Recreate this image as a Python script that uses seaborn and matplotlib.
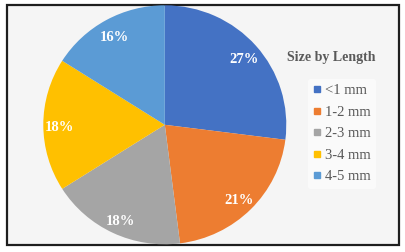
import matplotlib
matplotlib.use("Agg")
import matplotlib.pyplot as plt
from matplotlib.patches import Rectangle
from matplotlib.lines import Line2D
import seaborn as sns

categories = ["<1 mm", "1-2 mm", "2-3 mm", "3-4 mm", "4-5 mm"]
values = [27, 21, 18, 18, 16]
colors = ["#4472C4", "#ED7D31", "#A5A5A5", "#FFC000", "#5B9BD5"]
title = "Size by Length"

sns.set_theme(style="white")
plt.rcParams["font.family"] = ["Liberation Serif", "DejaVu Serif"]

W, H = 405, 252
fig = plt.figure(figsize=(W / 100, H / 100), dpi=100)
fig.patch.set_facecolor("white")

# frame with light background
fig.patches.append(Rectangle((7 / W, 1 - 244.5 / H), 392 / W, 240 / H,
                             transform=fig.transFigure, facecolor="#f5f5f5",
                             edgecolor="#1e1e1e", linewidth=1.6, zorder=-5))

palette = sns.color_palette(colors)
cx, cy, rx, ry = 164.8, 124.8, 121.5, 119.5
ax = fig.add_axes([(cx - rx) / W, 1 - (cy + ry) / H, 2 * rx / W, 2 * ry / H])
ax.set_zorder(1)
wedges, texts, autotexts = ax.pie(values, colors=palette, startangle=90, counterclock=False,
                                  autopct="%d%%", pctdistance=0.865,
                                  wedgeprops=dict(linewidth=0))
for t in autotexts:
    t.set_color("white")
    t.set_fontweight("bold")
    t.set_fontsize(10.5)
    px, py = t.get_position()
    t.set_position((px, py - 0.025))
ax.set_xlim(-1, 1)
ax.set_ylim(-1, 1)
ax.set_aspect("auto")
ax.axis("off")

fig.text(331 / W, 1 - 57 / H, title, ha="center", va="center", fontsize=10,
         fontweight="bold", color="#595959")

handles = [Line2D([], [], marker="s", linestyle="none", markersize=5,
                  markerfacecolor=c, markeredgecolor=c) for c in palette]
leg = fig.legend(handles, categories, loc="upper left",
                 bbox_to_anchor=(308 / W, 1 - 79 / H), fontsize=10.5,
                 frameon=True, facecolor="white", edgecolor="none", framealpha=0.6,
                 handlelength=0.55, handletextpad=0.25, labelspacing=0.57,
                 borderpad=0.35, borderaxespad=0)
leg.set_zorder(2)
for t in leg.get_texts():
    t.set_color("#595959")

fig.savefig("out.png", dpi=100)
